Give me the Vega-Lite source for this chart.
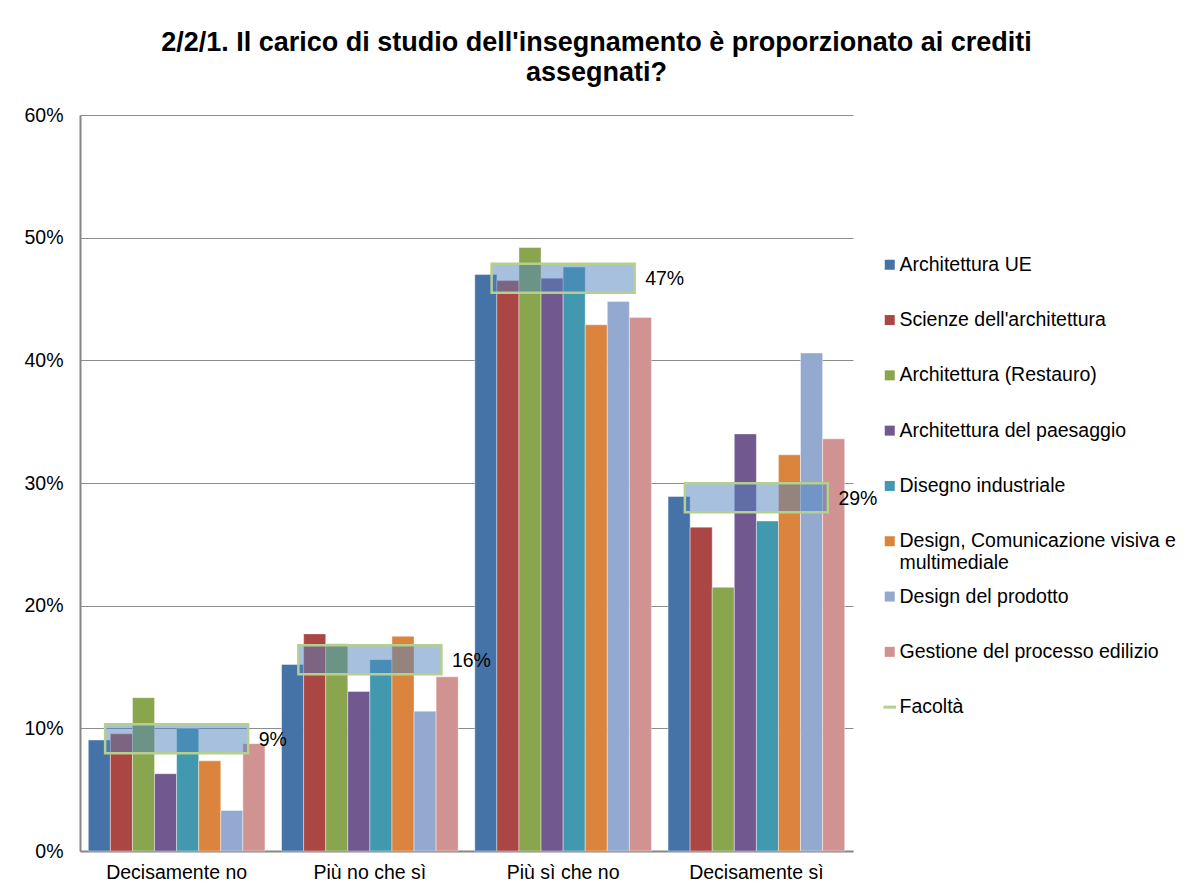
{
  "$schema": "https://vega.github.io/schema/vega-lite/v6.json",
  "width": 773,
  "height": 736,
  "autosize": {"type": "none"},
  "padding": {"left": 80, "top": 115, "right": 331, "bottom": 41},
  "background": "white",
  "title": {
    "text": ["2/2/1. Il carico di studio dell'insegnamento è proporzionato ai crediti", "assegnati?"],
    "font": "Liberation Sans",
    "fontSize": 27,
    "fontWeight": "bold",
    "color": "black",
    "anchor": "middle",
    "dx": 130,
    "dy": 6,
    "offset": 3,
    "baseline": "alphabetic",
    "lineHeight": 30
  },
  "config": {"view": {"stroke": null}, "font": "Liberation Sans"},
  "datasets": {
    "bars": [
      {"risposta": "Decisamente no", "corso": "Architettura UE", "percentuale": 9.05},
      {"risposta": "Decisamente no", "corso": "Scienze dell'architettura", "percentuale": 9.55},
      {"risposta": "Decisamente no", "corso": "Architettura (Restauro)", "percentuale": 12.5},
      {"risposta": "Decisamente no", "corso": "Architettura del paesaggio", "percentuale": 6.3},
      {"risposta": "Decisamente no", "corso": "Disegno industriale", "percentuale": 10.0},
      {"risposta": "Decisamente no", "corso": "Design, Comunicazione visiva e multimediale", "percentuale": 7.35},
      {"risposta": "Decisamente no", "corso": "Design del prodotto", "percentuale": 3.3},
      {"risposta": "Decisamente no", "corso": "Gestione del processo edilizio", "percentuale": 8.75},
      {"risposta": "Più no che sì", "corso": "Architettura UE", "percentuale": 15.2},
      {"risposta": "Più no che sì", "corso": "Scienze dell'architettura", "percentuale": 17.7},
      {"risposta": "Più no che sì", "corso": "Architettura (Restauro)", "percentuale": 16.9},
      {"risposta": "Più no che sì", "corso": "Architettura del paesaggio", "percentuale": 13.0},
      {"risposta": "Più no che sì", "corso": "Disegno industriale", "percentuale": 15.6},
      {"risposta": "Più no che sì", "corso": "Design, Comunicazione visiva e multimediale", "percentuale": 17.5},
      {"risposta": "Più no che sì", "corso": "Design del prodotto", "percentuale": 11.4},
      {"risposta": "Più no che sì", "corso": "Gestione del processo edilizio", "percentuale": 14.2},
      {"risposta": "Più sì che no", "corso": "Architettura UE", "percentuale": 47.0},
      {"risposta": "Più sì che no", "corso": "Scienze dell'architettura", "percentuale": 46.5},
      {"risposta": "Più sì che no", "corso": "Architettura (Restauro)", "percentuale": 49.2},
      {"risposta": "Più sì che no", "corso": "Architettura del paesaggio", "percentuale": 46.7},
      {"risposta": "Più sì che no", "corso": "Disegno industriale", "percentuale": 47.6},
      {"risposta": "Più sì che no", "corso": "Design, Comunicazione visiva e multimediale", "percentuale": 42.9},
      {"risposta": "Più sì che no", "corso": "Design del prodotto", "percentuale": 44.8},
      {"risposta": "Più sì che no", "corso": "Gestione del processo edilizio", "percentuale": 43.5},
      {"risposta": "Decisamente sì", "corso": "Architettura UE", "percentuale": 28.9},
      {"risposta": "Decisamente sì", "corso": "Scienze dell'architettura", "percentuale": 26.4},
      {"risposta": "Decisamente sì", "corso": "Architettura (Restauro)", "percentuale": 21.5},
      {"risposta": "Decisamente sì", "corso": "Architettura del paesaggio", "percentuale": 34.0},
      {"risposta": "Decisamente sì", "corso": "Disegno industriale", "percentuale": 26.9},
      {"risposta": "Decisamente sì", "corso": "Design, Comunicazione visiva e multimediale", "percentuale": 32.3},
      {"risposta": "Decisamente sì", "corso": "Design del prodotto", "percentuale": 40.6},
      {"risposta": "Decisamente sì", "corso": "Gestione del processo edilizio", "percentuale": 33.6}
    ],
    "facolta": [
      {"risposta": "Decisamente no", "percentuale": 9.15, "etichetta": "9%"},
      {"risposta": "Più no che sì", "percentuale": 15.6, "etichetta": "16%"},
      {"risposta": "Più sì che no", "percentuale": 46.7, "etichetta": "47%"},
      {"risposta": "Decisamente sì", "percentuale": 28.8, "etichetta": "29%"}
    ]
  },
  "layer": [
    {
      "data": {"name": "bars"},
      "mark": {"type": "bar", "stroke": "white", "strokeWidth": 0.8, "strokeOpacity": 0.5},
      "encoding": {
        "x": {
          "field": "risposta", "type": "nominal",
          "sort": ["Decisamente no", "Più no che sì", "Più sì che no", "Decisamente sì"],
          "scale": {"paddingInner": 0.086, "paddingOuter": 0.043},
          "axis": {"title": null, "labelAngle": 0, "labelFont": "Liberation Sans", "labelFontSize": 19.5, "labelColor": "black", "ticks": false, "domainColor": "#868686", "domainWidth": 2, "labelPadding": 12, "grid": false}
        },
        "xOffset": {
          "field": "corso", "type": "nominal",
          "sort": ["Architettura UE", "Scienze dell'architettura", "Architettura (Restauro)", "Architettura del paesaggio", "Disegno industriale", "Design, Comunicazione visiva e multimediale", "Design del prodotto", "Gestione del processo edilizio"],
          "scale": {"paddingInner": 0, "paddingOuter": 0}
        },
        "y": {
          "field": "percentuale", "type": "quantitative",
          "scale": {"domain": [0, 60], "nice": false},
          "axis": {"title": null, "values": [0, 10, 20, 30, 40, 50, 60], "labelExpr": "datum.value + '%'", "labelFont": "Liberation Sans", "labelFontSize": 19.5, "labelColor": "black", "ticks": false, "labelPadding": 17, "domainColor": "#868686", "domainWidth": 2, "gridColor": "#8c8c8c", "gridWidth": 1}
        },
        "color": {
          "field": "corso", "type": "nominal",
          "scale": {
            "domain": ["Architettura UE", "Scienze dell'architettura", "Architettura (Restauro)", "Architettura del paesaggio", "Disegno industriale", "Design, Comunicazione visiva e multimediale", "Design del prodotto", "Gestione del processo edilizio", "Facoltà"],
            "range": ["#4572A7", "#AA4643", "#89A54E", "#71588F", "#4198AF", "#DB843D", "#93A9CF", "#D19392", "#b5cf8e"]
          },
          "legend": {
            "title": null,
            "orient": "none",
            "legendX": 800,
            "legendY": 140,
            "gridAlign": "all",
            "rowPadding": 13.3,
            "labelFont": "Liberation Sans",
            "labelFontSize": 19.5,
            "labelColor": "black",
            "labelLimit": 330,
            "labelOffset": 0,
            "symbolType": {"expr": "datum.value === 'Facoltà' ? 'M-1.25,-0.3L1.25,-0.3L1.25,0.3L-1.25,0.3Z' : 'square'"},
            "symbolSize": 100,
            "symbolStrokeWidth": 0,
            "labelExpr": "datum.label == 'Design, Comunicazione visiva e multimediale' ? ['Design, Comunicazione visiva e', 'multimediale'] : datum.label",
            "encode": {
              "labels": {"update": {"lineHeight": {"value": 22}}}
            }
          }
        }
      }
    },
    {
      "data": {"name": "facolta"},
      "mark": {"type": "tick", "size": 143, "thickness": 29, "color": "#4F81BD", "fillOpacity": 0.5, "stroke": "#b5cf8e", "strokeWidth": 2.5, "opacity": 1},
      "encoding": {
        "x": {"field": "risposta", "type": "nominal", "sort": ["Decisamente no", "Più no che sì", "Più sì che no", "Decisamente sì"]},
        "y": {"field": "percentuale", "type": "quantitative"}
      }
    },
    {
      "data": {"name": "facolta"},
      "mark": {"type": "text", "align": "left", "baseline": "middle", "dx": 82, "dy": 1, "font": "Liberation Sans", "fontSize": 19.5, "color": "black"},
      "encoding": {
        "x": {"field": "risposta", "type": "nominal", "sort": ["Decisamente no", "Più no che sì", "Più sì che no", "Decisamente sì"]},
        "y": {"field": "percentuale", "type": "quantitative"},
        "text": {"field": "etichetta"}
      }
    }
  ]
}
